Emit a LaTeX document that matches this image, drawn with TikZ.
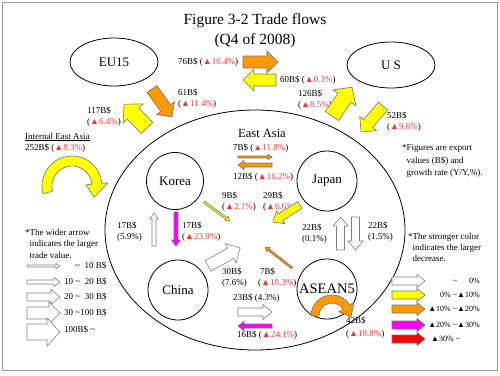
\documentclass[tikz,border=0pt]{standalone}
\usepackage{fontspec}
\setmainfont{Liberation Serif}
\usepackage{tikz}
\usetikzlibrary{shapes.geometric}

\definecolor{cYel}{HTML}{FFFF00}
\definecolor{cOrg}{HTML}{FF9900}
\definecolor{cMag}{HTML}{FF00FF}
\definecolor{cRedArr}{HTML}{FF0000}
\definecolor{cRed}{HTML}{FF3030}

% growth rate in red
\newcommand{\fall}[1]{(\textcolor{cRed}{▲#1\%})}
% block arrow: style, tail, angle, length
\newcommand{\flow}[4]{%
  \draw[#1, shift={(#2)}, rotate=#3]
    (0,-\sw) -- (#4-\hl,-\sw) -- (#4-\hl,-\hw) -- (#4,0)
    -- (#4-\hl,\hw) -- (#4-\hl,\sw) -- (0,\sw) -- cycle;}

\tikzset{
  upto10/.code={\def\sw{1}\def\hw{2.6}\def\hl{4}},
  upto20/.code={\def\sw{2}\def\hw{4.5}\def\hl{6}},
  upto30/.code={\def\sw{4}\def\hw{7.5}\def\hl{9}},
  upto100/.code={\def\sw{6}\def\hw{11}\def\hl{11}},
  over100/.code={\def\sw{8}\def\hw{14}\def\hl{13}},
  legbar/.code={\def\sw{4}\def\hw{6.5}\def\hl{8}},
  wht/.style={fill=white, draw=black!50, line width=0.6pt},
  yel/.style={fill=cYel, draw=black!55, line width=0.6pt},
  org/.style={fill=cOrg, draw=black!55, line width=0.6pt},
  mag/.style={fill=cMag, draw=black!55, line width=0.6pt},
  redarr/.style={fill=cRedArr, draw=black!55, line width=0.6pt},
  region/.style={ellipse, draw, line width=0.8pt, inner sep=0pt, font=\fontsize{13}{15}\selectfont},
  country/.style={circle, draw, line width=0.8pt, inner sep=0pt, font=\fontsize{13}{15}\selectfont},
  val/.style={font=\fontsize{9}{11}\selectfont, align=left, inner sep=0pt, anchor=west},
  key/.style={font=\fontsize{8}{10}\selectfont, inner sep=0pt, anchor=east},
}

\begin{document}
\begin{tikzpicture}[x=1pt, y=1pt]
    \useasboundingbox (0,0) rectangle (500,-375);
    \draw[black!40, line width=1pt] (2,-2) rectangle (497,-370);

    % title
    \node[font=\fontsize{15.5}{18}\selectfont] (title) at (255,-21) {Figure 3-2 Trade flows};
    \node[font=\fontsize{15.5}{18}\selectfont] (period) at (255,-41) {(Q4 of 2008)};

    % regions
    \node[region, minimum width=88pt, minimum height=48pt] (eu) at (114,-62) {EU15};
    \node[region, minimum width=88pt, minimum height=46pt] (us) at (391,-65) {U S};
    \node[region, minimum width=300pt, minimum height=240pt] (ea) at (255,-230) {};
    \node[font=\fontsize{12.5}{15}\selectfont] (ealabel) at (262,-133) {East Asia};
    \node[country, minimum size=57pt] (korea) at (175,-181) {Korea};
    \node[country, minimum size=60pt] (japan) at (327,-181) {Japan};
    \node[country, minimum size=60pt] (china) at (178,-290) {China};
    \node[country, minimum size=60pt, font=\fontsize{14.5}{17}\selectfont] (asean) at (327,-289) {ASEAN5};

    % values
    \node[val] (l76) at (178,-62) {76B\$ \fall{16.4}};
    \node[val] (l60) at (280,-80) {60B\$ \fall{0.3}};
    \node[val] (l61) at (178,-99) {61B\$\\\fall{11.4}};
    \node[val] (l117) at (87,-117) {117B\$\\\fall{6.4}};
    \node[val] (l126) at (298,-100) {126B\$\\\fall{8.5}};
    \node[val] (l52) at (387,-121.5) {52B\$\\\fall{9.6}};
    \node[val] (linternal) at (25,-142.5) {\underline{Internal East Asia}\\252B\$ \fall{8.3}};
    \node[val] (l7a) at (233,-148) {7B\$ \fall{11.8}};
    \node[val] (l12) at (233,-177) {12B\$ \fall{16.2}};
    \node[val] (l9) at (222,-202) {9B\$\\\fall{2.1}};
    \node[val] (l29) at (263,-202) {29B\$\\\fall{6.6}};
    \node[val] (l17w) at (117,-232) {17B\$\\(5.9\%)};
    \node[val] (l17m) at (182,-232) {17B\$\\\fall{23.9}};
    \node[val] (l22w) at (302,-233.5) {22B\$\\(0.1\%)};
    \node[val] (l22d) at (368,-231.5) {22B\$\\(1.5\%)};
    \node[val] (l30) at (222,-277.5) {30B\$\\(7.6\%)};
    \node[val] (l7b) at (258,-277.5) {\hspace{2pt}7B\$\\\fall{18.3}};
    \node[val] (l23) at (233,-298) {23B\$ (4.3\%)};
    \node[val] (l16) at (237,-335) {16B\$ \fall{24.1}};
    \node[val, font=\fontsize{9}{13}\selectfont] (l42) at (346,-328) {42B\$\\\fall{18.8}};

    % notes
    \node[val, font=\fontsize{9}{11.5}\selectfont] (nwide) at (25,-243.5) {*The wider arrow\\\phantom{*}indicates the larger\\\phantom{*}trade value.};
    \node[val, font=\fontsize{9}{12.5}\selectfont] (nfig) at (402,-161) {*Figures are export\\\phantom{*}values (B\$) and\\\phantom{*}growth rate (Y/Y,\%).};
    \node[val, font=\fontsize{9}{10.8}\selectfont] (ncol) at (408,-247.5) {*The stronger color\\\phantom{*}indicates the larger\\\phantom{*}decrease.};

    % flows with EU15 and US
    \flow{org,upto100}{152,-89}{-54.5}{34.4}
    \flow{yel,over100}{147,-128}{133.8}{33}
    \flow{org,upto100}{243,-62}{0}{35}
    \flow{yel,upto100}{276,-80}{180}{33}
    \flow{yel,over100}{332,-116}{55.4}{35}
    \flow{yel,upto100}{383,-106}{-130.2}{34}

    % flows inside East Asia
    \flow{org,upto10}{238,-157}{0}{34}
    \flow{org,upto20}{272,-165}{180}{34}
    \flow{yel,upto10}{204,-202}{-36.2}{32}
    \flow{yel,upto30}{300,-205}{-147.8}{32}
    \flow{org,upto10}{292,-268}{142.1}{34}
    \flow{wht,upto100}{208,-266}{29.4}{37}
    \flow{wht,upto20}{154,-246}{90}{33}
    \flow{mag,upto20}{176,-212}{-90}{34}
    \flow{wht,upto30}{340.5,-250}{90}{33}
    \flow{wht,upto30}{355.5,-217}{-90}{33}
    \flow{wht,upto30}{238,-312}{0}{34}
    \flow{mag,upto20}{272,-326}{180}{34}

    % curved arrows
    \begin{scope}[shift={(72,-186)}]
        \draw[yel] (195:30) arc[start angle=195, end angle=5, radius=30] -- (5:36) -- (-27:25)
            -- (5:14) -- (5:20) arc[start angle=5, end angle=195, radius=20] -- cycle;
    \end{scope}
    \begin{scope}[shift={(332,-316)}]
        \draw[org] (180:21) arc[start angle=180, end angle=32, radius=21] -- (32:26) -- (-3:19)
            -- (32:8) -- (32:13) arc[start angle=32, end angle=180, radius=13] -- cycle;
    \end{scope}

    % legend: width
    \flow{wht,upto10}{27,-266}{0}{33}
    \flow{wht,upto20}{27,-282}{0}{33}
    \flow{wht,upto30}{27,-297}{0}{33}
    \flow{wht,upto100}{27,-313}{0}{33}
    \flow{wht,over100}{27,-332}{0}{33}
    \node[val] (k1) at (75,-266) {\textasciitilde\ \ 10 B\$};
    \node[val] (k2) at (64,-282) {10 \textasciitilde\ \ 20 B\$};
    \node[val] (k3) at (64,-297) {20 \textasciitilde\ \ 30 B\$};
    \node[val] (k4) at (64,-313) {30 \textasciitilde100 B\$};
    \node[val] (k5) at (64,-330) {100B\$ \textasciitilde};

    % legend: colour
    \flow{wht,legbar}{392,-281}{0}{33}
    \flow{yel,legbar}{392,-295}{0}{33}
    \flow{org,legbar}{392,-309}{0}{33}
    \flow{mag,legbar}{392,-325}{0}{33}
    \flow{redarr,legbar}{392,-339}{0}{33}
    \node[key] (k6) at (480,-281) {\textasciitilde\hspace{12pt}0\%};
    \node[key] (k7) at (480,-295) {0\% \textasciitilde▲10\%};
    \node[key] (k8) at (480,-309) {▲10\% \textasciitilde▲20\%};
    \node[key] (k9) at (480,-325) {▲20\% \textasciitilde▲30\%};
    \node[key, anchor=west] (k10) at (431,-339) {▲30\% \textasciitilde};
\end{tikzpicture}
\end{document}
